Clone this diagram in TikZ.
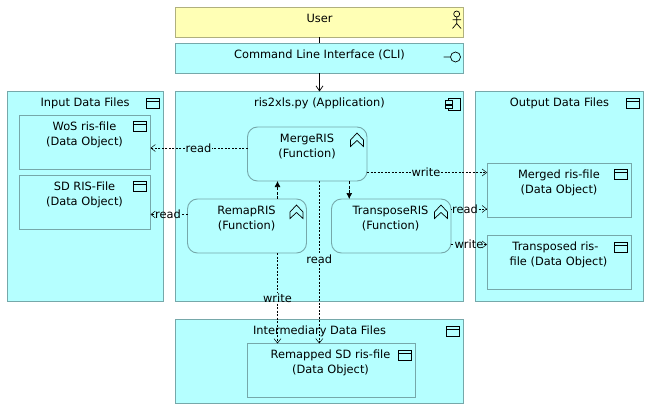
\documentclass[tikz,border=0pt]{standalone}
\usepackage{fontspec}
\setmainfont{DejaVu Sans}
\usepackage{tikz}
\usetikzlibrary{arrows.meta}
\definecolor{appblue}{RGB}{181,255,255}
\definecolor{bizyellow}{RGB}{255,255,181}
\definecolor{edgeblue}{RGB}{118,168,170}
\definecolor{edgeyellow}{RGB}{176,176,126}
\tikzset{
	box/.style={draw=edgeblue, fill=appblue, line width=0.9pt, rectangle, anchor=north west, minimum width=#1, inner sep=0pt, outer sep=0pt},
	fnbox/.style={box=#1, rounded corners=10pt, minimum height=54pt},
	boxtext/.style={font=\fontsize{11.4}{15}\selectfont, align=center, inner sep=0pt, text=black},
	rel/.style={dash pattern=on 2pt off 1.5pt, line width=0.5pt},
	relto/.style={rel, -{Straight Barb[length=4.5pt,width=7pt]}},
	trig/.style={dash pattern=on 3pt off 1.5pt, line width=0.7pt, -{Latex[length=6pt,width=6pt]}},
	lbl/.style={font=\fontsize{11.4}{13}\selectfont, inner sep=0.5pt, text=black},
	icon/.style={draw=black, line width=0.7pt},
}
\begin{document}
\begin{tikzpicture}[x=1pt,y=-1pt]
	\useasboundingbox[fill=white] (0,0) rectangle (651,415);
	%%%%% containers %%%%%
	\node[box=288pt, minimum height=29.5pt, fill=bizyellow, draw=edgeyellow] (user) at (175.5,7.5) {};
	\node[box=288pt, minimum height=30pt] (cli) at (175.5,43) {};
	\node[box=156pt, minimum height=210pt] (input) at (7.5,91.5) {};
	\node[box=288pt, minimum height=210pt] (app) at (175.5,91.5) {};
	\node[box=168pt, minimum height=210pt] (output) at (475.5,91.5) {};
	\node[box=288pt, minimum height=84pt] (inter) at (175.5,319.5) {};
	%%%%% inner boxes %%%%%
	\node[box=131pt, minimum height=54pt] (wos) at (19.5,115) {};
	\node[box=131pt, minimum height=54pt] (sd) at (19.5,175) {};
	\node[box=144.5pt, minimum height=54.5pt] (merged) at (487,163) {};
	\node[box=144.5pt, minimum height=54pt] (transposed) at (487,235.5) {};
	\node[box=168pt, minimum height=54pt] (remapped) at (247.5,343.5) {};
	\node[fnbox=119.5pt] (merge) at (247.5,127) {};
	\node[fnbox=119pt] (remap) at (187.5,199) {};
	\node[fnbox=119.5pt] (transpose) at (331.5,199) {};
	%%%%% texts %%%%%
	\node[boxtext] (usertxt) at (319.5,18.5) {User};
	\node[boxtext] (clitxt) at (319.5,55) {Command Line Interface (CLI)};
	\node[boxtext] (inputtxt) at (85,103) {Input Data Files};
	\node[boxtext] (apptxt) at (319.5,103) {ris2xls.py (Application)};
	\node[boxtext] (outputtxt) at (559.5,103) {Output Data Files};
	\node[boxtext] (intertxt) at (319.5,331) {Intermediary Data Files};
	\node[boxtext] (wostxt) at (84.5,134.5) {WoS ris-file\\(Data Object)};
	\node[boxtext] (sdtxt) at (84.5,194.5) {SD RIS-File\\(Data Object)};
	\node[boxtext] (mergedtxt) at (559,182.5) {Merged ris-file\\(Data Object)};
	\node[boxtext] (transposedtxt) at (558.5,255) {Transposed ris-\hspace*{6pt}\\file (Data Object)};
	\node[boxtext] (remappedtxt) at (330.5,363) {Remapped SD ris-file\\(Data Object)};
	\node[boxtext] (mergetxt) at (307,146.5) {MergeRIS\\(Function)};
	\node[boxtext] (remaptxt) at (246.5,218.5) {RemapRIS\\(Function)};
	\node[boxtext] (transposetxt) at (390.5,218.5) {TransposeRIS\\(Function)};
	%%%%% icons %%%%%
	\foreach \b in {input,output,inter,wos,sd,merged,transposed,remapped}
		\draw[icon] ([xshift=-17pt,yshift=-6.5pt]\b.north east) rectangle ([xshift=-4pt,yshift=-16.5pt]\b.north east)
			([xshift=-17pt,yshift=-9.5pt]\b.north east) -- ([xshift=-4pt,yshift=-9.5pt]\b.north east);
	\foreach \b in {merge,remap,transpose}
		\draw[icon] ([xshift=-16.5pt,yshift=-19.5pt]\b.north east) -- ([xshift=-16.5pt,yshift=-13pt]\b.north east) -- ([xshift=-10pt,yshift=-6pt]\b.north east) -- ([xshift=-3.5pt,yshift=-13pt]\b.north east) -- ([xshift=-3.5pt,yshift=-19.5pt]\b.north east) -- ([xshift=-10pt,yshift=-13.5pt]\b.north east) -- cycle;
	% actor
	\draw[icon] (456.7,14) circle (3) (456.7,17) -- (456.7,23.5) (452.5,19.8) -- (461,19.8) (452.5,28.5) -- (456.7,23.5) -- (461,28.5);
	% interface
	\draw[icon] (455.5,57) circle (5) (443.5,57) -- (450.5,57);
	% component
	\draw[icon] (448.5,98.5) rectangle (460,110.5);
	\draw[icon, fill=appblue] (445.5,100.5) rectangle (452.5,104);
	\draw[icon, fill=appblue] (445.5,105) rectangle (452.5,108.5);
	%%%%% connectors %%%%%
	\node[lbl] (lmergeread) at (198.5,148) {read};
	\node[lbl] (lremapread) at (168,214.5) {read};
	\node[lbl] (lmergewrite) at (426,172.5) {write};
	\node[lbl] (ltransread) at (465,209) {read};
	\node[lbl] (ltranswrite) at (469,244.5) {write};
	\node[lbl] (lremapwrite) at (277.5,298.5) {write};
	\node[lbl] (lmergeread2) at (319.3,259) {read};
	\draw[line width=0.7pt] (user.south) -- (cli.north);
	\draw[line width=0.7pt, -{Straight Barb[length=5pt,width=7pt]}] (cli.south) -- (app.north);
	\draw[trig] ([xshift=30.5pt]remap.north) -- ([xshift=-29.75pt]merge.south);
	\draw[trig] ([xshift=42pt]merge.south) -- ([xshift=-42pt]transpose.north);
	\draw[rel] (merge.west |- lmergeread) -- (lmergeread);
	\draw[relto] (lmergeread) -- (wos.east |- lmergeread);
	\draw[rel] (remap.west |- lremapread) -- (lremapread);
	\draw[relto] (lremapread) -- (sd.east |- lremapread);
	\draw[rel] (merge.east |- lmergewrite) -- (lmergewrite);
	\draw[relto] (lmergewrite) -- (merged.west |- lmergewrite);
	\draw[rel] (transpose.east |- ltransread) -- (ltransread);
	\draw[relto] (ltransread) -- (merged.west |- ltransread);
	\draw[rel] (transpose.east |- ltranswrite) -- (ltranswrite);
	\draw[relto] (ltranswrite) -- (transposed.west |- ltranswrite);
	\draw[rel] (lremapwrite |- remap.south) -- (lremapwrite);
	\draw[relto] (lremapwrite) -- (lremapwrite |- remapped.north);
	\draw[rel] (lmergeread2 |- merge.south) -- (lmergeread2);
	\draw[relto] (lmergeread2) -- (lmergeread2 |- remapped.north);
\end{tikzpicture}
\end{document}
